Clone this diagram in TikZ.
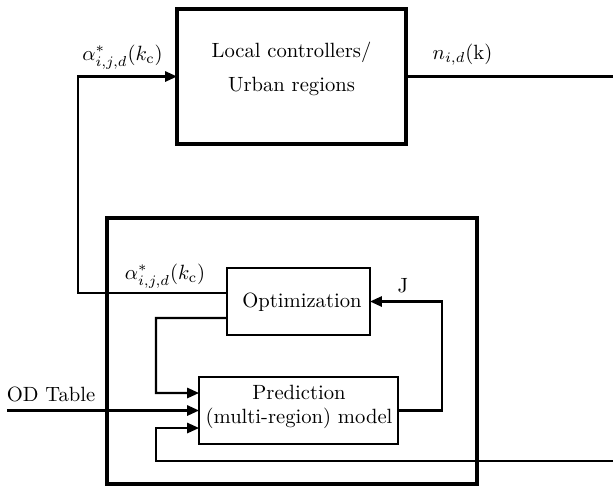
\documentclass[tikz,border=0pt]{standalone}
\usetikzlibrary{arrows.meta,calc}
\begin{document}
\begin{tikzpicture}[x=0.485pt,y=-0.485pt,
  thickbox/.style={draw,line width=1.6pt,inner sep=0pt,outer sep=0pt},
  thinbox/.style={draw,line width=1pt,inner sep=0pt,outer sep=0pt,align=center},
  wire/.style={line width=1pt},
  arr/.style={wire,-{Triangle[length=5.8pt,width=5pt]}},
  lbl/.style={inner sep=0pt,font=\normalsize}]
\useasboundingbox (0,0) rectangle (613,485);
% blocks
\node[thickbox,minimum width=111.07pt,minimum height=65.48pt] (ctrl) at (291.5,76.5) {};
\node[lbl,align=center] (ctrltxt) at (291.5,69) {Local controllers/\\[4.5pt]Urban regions};
\node[thickbox,minimum width=179.45pt,minimum height=129pt] (mpc) at (292,351) {};
\node[thinbox,minimum width=69.36pt,minimum height=32.5pt] (opt) at (298.5,301.5) {};
\node[lbl] (opttxt) at (302,302) {Optimization};
\node[thinbox,minimum width=96.5pt,minimum height=32.5pt] (pred) at (298.5,410.5) {};
\node[lbl,align=center] (predtxt) at (299,407) {Prediction\\(multi-region) model};
% free ends
\coordinate (nout) at (613,76.5);
\coordinate (odin) at (7,410.5);
\coordinate (fbin) at (613,461);
% connectors
\draw[arr] ($(opt.west)+(0,-8.5)$) -- (78,293) |- (ctrl.west);
\draw[wire] (ctrl.east) -- (nout);
\draw[arr] ($(opt.west)+(0,16.5)$) -- (156,318) |- ($(pred.west)+(0,-17.5)$);
\draw[arr] (odin) -- (pred.west);
\draw[arr] (fbin) -- (156,461) |- ($(pred.west)+(0,17.5)$);
\draw[arr] (pred.east) -- (442,410.5) |- (opt.east);
% labels
\node[lbl] (la1) at (122.5,57) {$\alpha^*_{i,j,d}(k_{\mathrm{c}})$};
\node[lbl] (ln) at (462.5,55) {$n_{i,d}(\mathrm{k})$};
\node[lbl] (la2) at (165,276) {$\alpha^*_{i,j,d}(k_{\mathrm{c}})$};
\node[lbl] (lj) at (403,286) {J};
\node[lbl] (lod) at (51,394) {OD Table};
\end{tikzpicture}
\end{document}
